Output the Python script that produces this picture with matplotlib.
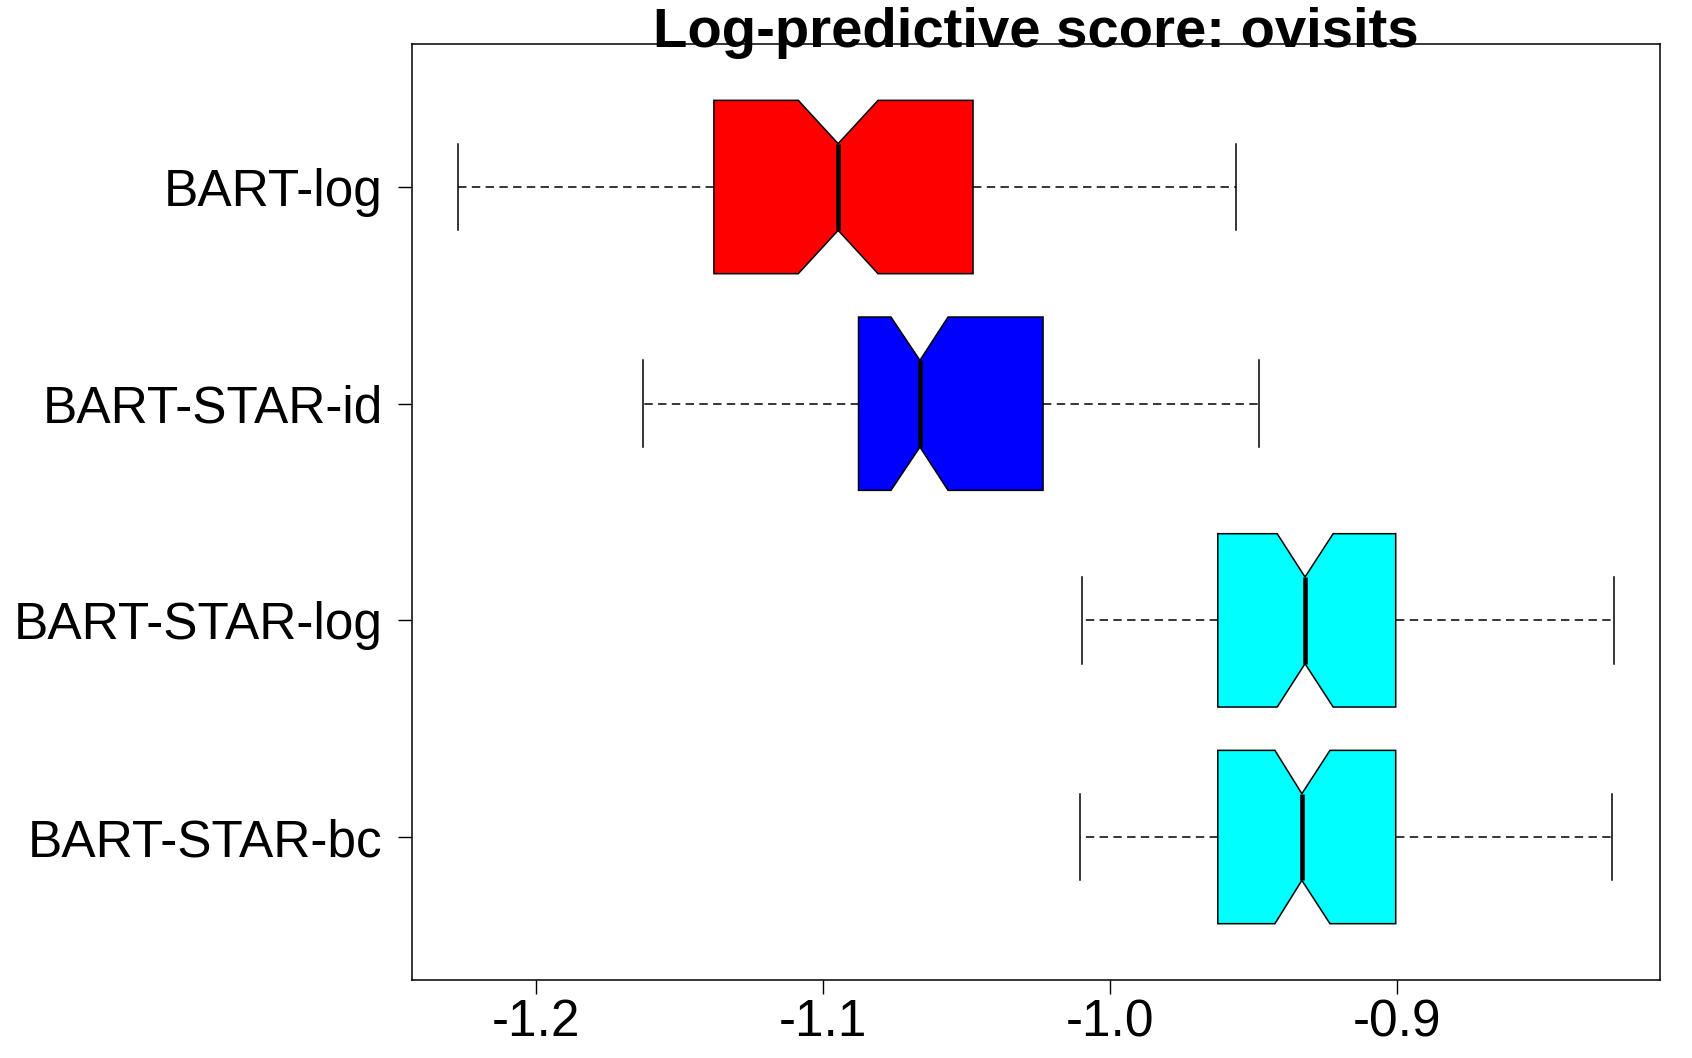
import matplotlib
matplotlib.use("Agg")
import matplotlib.pyplot as plt

# data (top to bottom)
labels = ["BART-log", "BART-STAR-id", "BART-STAR-log", "BART-STAR-bc"]
colors = ["#FF0000", "#0000FF", "#00FFFF", "#00FFFF"]
whislo = [-1.2271, -1.1628, -1.0098, -1.0105]
q1 = [-1.1380, -1.0876, -0.9624, -0.9624]
med = [-1.0947, -1.0662, -0.9320, -0.9331]
q3 = [-1.0477, -1.0233, -0.9004, -0.9004]
whishi = [-0.9560, -0.9481, -0.8244, -0.8252]
cilo = [-1.1086, -1.0763, -0.9417, -0.9425]
cihi = [-1.0808, -1.0564, -0.9222, -0.9233]

plt.rcParams["font.family"] = ["Liberation Sans", "DejaVu Sans"]

fig = plt.figure(figsize=(16.92, 10.58), dpi=100)
ax = fig.add_axes([0.2435, 0.0737, 0.9811 - 0.2435, 0.9584 - 0.0737])

stats = []
for i in range(len(labels)):
    stats.append(dict(label=labels[i], whislo=whislo[i], q1=q1[i], med=med[i],
                      q3=q3[i], whishi=whishi[i], cilo=cilo[i], cihi=cihi[i],
                      fliers=[]))
pos = list(range(len(labels), 0, -1))

bp = ax.bxp(stats, positions=pos, vert=False, widths=0.8, capwidths=0.4,
            shownotches=True, patch_artist=True, showfliers=False,
            boxprops=dict(edgecolor="black", linewidth=1.1),
            medianprops=dict(color="black", linewidth=3.3, solid_capstyle="butt"),
            whiskerprops=dict(color="black", linewidth=1.1, linestyle=(0, (5.5, 3.5))),
            capprops=dict(color="black", linewidth=1.1))
for patch, c in zip(bp["boxes"], colors):
    patch.set_facecolor(c)
for w in bp["whiskers"]:
    w.set_zorder(1)

xmin, xmax = min(whislo), max(whishi)
pad = 0.04 * (xmax - xmin)
ax.set_xlim(xmin - pad, xmax + pad)
ax.set_ylim(0.5 - 0.16, len(labels) + 0.5 + 0.16)

ax.set_xticks([-1.2, -1.1, -1.0, -0.9])
ax.set_xticklabels(["-1.2", "-1.1", "-1.0", "-0.9"])
ax.set_yticks(pos)
ax.set_yticklabels(labels)
ax.tick_params(axis="x", length=10, width=1.0, labelsize=37, pad=3)
ax.tick_params(axis="y", length=10, width=1.0, labelsize=37, pad=11)
for s in ax.spines.values():
    s.set_linewidth(1.1)

ax.text(0.5, 0.997, "Log-predictive score: ovisits", transform=ax.transAxes,
        ha="center", va="baseline", fontsize=40.5, fontweight="bold")

fig.savefig("out.png", dpi=100)
